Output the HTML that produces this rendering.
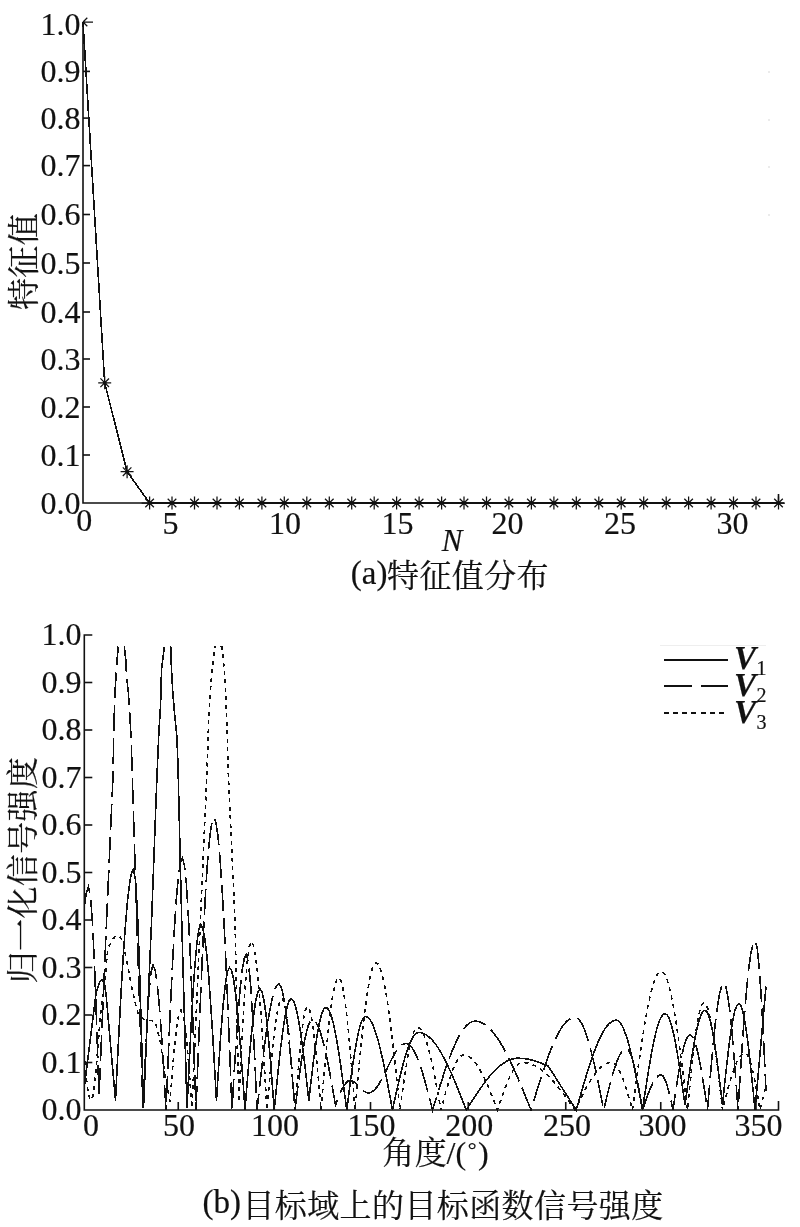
<!DOCTYPE html>
<html lang="zh"><head><meta charset="utf-8"><title>figure</title>
<style>
html,body{margin:0;padding:0;background:#fff;}
body{width:800px;height:1227px;overflow:hidden;position:relative;}
svg{position:absolute;left:0;top:0;display:block;}
text{font-family:"Liberation Serif","Noto Serif CJK SC",serif;fill:#111;stroke:#111;stroke-width:0.2;}
.t{font-size:32px;}
.cj{font-family:"Liberation Serif","Noto Serif CJK SC",serif;font-size:32px;letter-spacing:0.4px;}
.lt{font-size:33px;}
.mk{stroke:#111;stroke-width:1.25;fill:none;}
.yl{letter-spacing:0px;}
.ax{stroke:#111;stroke-width:1.6;fill:none;}
.ln{stroke:#111;stroke-width:1.6;fill:none;stroke-linejoin:miter;shape-rendering:crispEdges;}
</style></head><body>
<svg width="800" height="1227" viewBox="0 0 800 1227">
<path class="ax" d="M83 22V503H784M778.5 503v-9"/>
<text class="t yl" x="80.4" y="513.6" text-anchor="end">0.0</text>
<path class="ax" d="M83 455h7"/>
<text class="t yl" x="80.4" y="465.6" text-anchor="end">0.1</text>
<path class="ax" d="M83 407h7"/>
<text class="t yl" x="80.4" y="417.6" text-anchor="end">0.2</text>
<path class="ax" d="M83 359h7"/>
<text class="t yl" x="80.4" y="369.6" text-anchor="end">0.3</text>
<path class="ax" d="M83 312h7"/>
<text class="t yl" x="80.4" y="322.6" text-anchor="end">0.4</text>
<path class="ax" d="M83 263h7"/>
<text class="t yl" x="80.4" y="273.6" text-anchor="end">0.5</text>
<path class="ax" d="M83 214.5h7"/>
<text class="t yl" x="80.4" y="225.1" text-anchor="end">0.6</text>
<path class="ax" d="M83 165.6h7"/>
<text class="t yl" x="80.4" y="176.2" text-anchor="end">0.7</text>
<path class="ax" d="M83 118.1h7"/>
<text class="t yl" x="80.4" y="128.7" text-anchor="end">0.8</text>
<path class="ax" d="M83 71.4h7"/>
<text class="t yl" x="80.4" y="82.0" text-anchor="end">0.9</text>
<text class="t yl" x="80.4" y="35.0" text-anchor="end">1.0</text>
<text class="t" x="84.3" y="531" text-anchor="middle">0</text>
<text class="t" x="170.5" y="533.5" text-anchor="middle">5</text>
<text class="t" x="285.0" y="533.5" text-anchor="middle">10</text>
<text class="t" x="397.5" y="533.5" text-anchor="middle">15</text>
<text class="t" x="507.4" y="533.5" text-anchor="middle">20</text>
<text class="t" x="620.0" y="533.5" text-anchor="middle">25</text>
<text class="t" x="732.5" y="533.5" text-anchor="middle">30</text>
<rect x="768.5" y="71" width="1" height="2" fill="#d8d8d8"/>
<rect x="768.5" y="119" width="1" height="2" fill="#d8d8d8"/>
<rect x="768.5" y="166" width="1" height="2" fill="#d8d8d8"/>
<rect x="768.5" y="214" width="1" height="2" fill="#d8d8d8"/>
<path class="ln" d="M83.0 22.0 L104.7 382.8 L127.1 471.7 L149.6 503.0 L172.0 503.0 L194.5 503.0 L217.0 503.0 L239.4 503.0 L261.9 503.0 L284.3 503.0 L306.8 503.0 L329.3 503.0 L351.7 503.0 L374.2 503.0 L396.6 503.0 L419.1 503.0 L441.6 503.0 L464.0 503.0 L486.5 503.0 L508.9 503.0 L531.4 503.0 L553.9 503.0 L576.3 503.0 L598.8 503.0 L621.2 503.0 L643.7 503.0 L666.2 503.0 L688.6 503.0 L711.1 503.0 L733.5 503.0 L756.0 503.0 L778.5 503.0"/>
<path class="mk" d="M83.0 22.0h10M83.0 22.0l4.3 4.3M83.0 22.0l4.3 -4.3"/>
<path class="mk" d="M98.2 382.8h13.0M104.7 376.2v13.0M100.4 378.4l8.6 8.6M100.4 387.1l8.6 -8.6"/>
<circle cx="104.7" cy="382.8" r="1.8" fill="#111"/>
<path class="mk" d="M120.6 471.7h13.0M127.1 465.2v13.0M122.8 467.4l8.6 8.6M122.8 476.0l8.6 -8.6"/>
<circle cx="127.1" cy="471.7" r="1.8" fill="#111"/>
<path class="mk" d="M141.6 503.0h16M149.6 496.5v13.0M145.3 498.7l8.6 8.6M145.3 507.3l8.6 -8.6"/>
<circle cx="149.6" cy="503.0" r="1.8" fill="#111"/>
<path class="mk" d="M165.5 503.0h13.0M172.0 496.5v13.0M167.7 498.7l8.6 8.6M167.7 507.3l8.6 -8.6"/>
<circle cx="172.0" cy="503.0" r="1.8" fill="#111"/>
<path class="mk" d="M188.0 503.0h13.0M194.5 496.5v13.0M190.2 498.7l8.6 8.6M190.2 507.3l8.6 -8.6"/>
<circle cx="194.5" cy="503.0" r="1.8" fill="#111"/>
<path class="mk" d="M210.5 503.0h13.0M217.0 496.5v13.0M212.7 498.7l8.6 8.6M212.7 507.3l8.6 -8.6"/>
<circle cx="217.0" cy="503.0" r="1.8" fill="#111"/>
<path class="mk" d="M232.9 503.0h13.0M239.4 496.5v13.0M235.1 498.7l8.6 8.6M235.1 507.3l8.6 -8.6"/>
<circle cx="239.4" cy="503.0" r="1.8" fill="#111"/>
<path class="mk" d="M255.4 503.0h13.0M261.9 496.5v13.0M257.6 498.7l8.6 8.6M257.6 507.3l8.6 -8.6"/>
<circle cx="261.9" cy="503.0" r="1.8" fill="#111"/>
<path class="mk" d="M277.8 503.0h13.0M284.3 496.5v13.0M280.0 498.7l8.6 8.6M280.0 507.3l8.6 -8.6"/>
<circle cx="284.3" cy="503.0" r="1.8" fill="#111"/>
<path class="mk" d="M300.3 503.0h13.0M306.8 496.5v13.0M302.5 498.7l8.6 8.6M302.5 507.3l8.6 -8.6"/>
<circle cx="306.8" cy="503.0" r="1.8" fill="#111"/>
<path class="mk" d="M322.8 503.0h13.0M329.3 496.5v13.0M325.0 498.7l8.6 8.6M325.0 507.3l8.6 -8.6"/>
<circle cx="329.3" cy="503.0" r="1.8" fill="#111"/>
<path class="mk" d="M345.2 503.0h13.0M351.7 496.5v13.0M347.4 498.7l8.6 8.6M347.4 507.3l8.6 -8.6"/>
<circle cx="351.7" cy="503.0" r="1.8" fill="#111"/>
<path class="mk" d="M367.7 503.0h13.0M374.2 496.5v13.0M369.9 498.7l8.6 8.6M369.9 507.3l8.6 -8.6"/>
<circle cx="374.2" cy="503.0" r="1.8" fill="#111"/>
<path class="mk" d="M390.1 503.0h13.0M396.6 496.5v13.0M392.3 498.7l8.6 8.6M392.3 507.3l8.6 -8.6"/>
<circle cx="396.6" cy="503.0" r="1.8" fill="#111"/>
<path class="mk" d="M412.6 503.0h13.0M419.1 496.5v13.0M414.8 498.7l8.6 8.6M414.8 507.3l8.6 -8.6"/>
<circle cx="419.1" cy="503.0" r="1.8" fill="#111"/>
<path class="mk" d="M435.1 503.0h13.0M441.6 496.5v13.0M437.3 498.7l8.6 8.6M437.3 507.3l8.6 -8.6"/>
<circle cx="441.6" cy="503.0" r="1.8" fill="#111"/>
<path class="mk" d="M457.5 503.0h13.0M464.0 496.5v13.0M459.7 498.7l8.6 8.6M459.7 507.3l8.6 -8.6"/>
<circle cx="464.0" cy="503.0" r="1.8" fill="#111"/>
<path class="mk" d="M480.0 503.0h13.0M486.5 496.5v13.0M482.2 498.7l8.6 8.6M482.2 507.3l8.6 -8.6"/>
<circle cx="486.5" cy="503.0" r="1.8" fill="#111"/>
<path class="mk" d="M502.4 503.0h13.0M508.9 496.5v13.0M504.6 498.7l8.6 8.6M504.6 507.3l8.6 -8.6"/>
<circle cx="508.9" cy="503.0" r="1.8" fill="#111"/>
<path class="mk" d="M524.9 503.0h13.0M531.4 496.5v13.0M527.1 498.7l8.6 8.6M527.1 507.3l8.6 -8.6"/>
<circle cx="531.4" cy="503.0" r="1.8" fill="#111"/>
<path class="mk" d="M547.4 503.0h13.0M553.9 496.5v13.0M549.6 498.7l8.6 8.6M549.6 507.3l8.6 -8.6"/>
<circle cx="553.9" cy="503.0" r="1.8" fill="#111"/>
<path class="mk" d="M569.8 503.0h13.0M576.3 496.5v13.0M572.0 498.7l8.6 8.6M572.0 507.3l8.6 -8.6"/>
<circle cx="576.3" cy="503.0" r="1.8" fill="#111"/>
<path class="mk" d="M592.3 503.0h13.0M598.8 496.5v13.0M594.5 498.7l8.6 8.6M594.5 507.3l8.6 -8.6"/>
<circle cx="598.8" cy="503.0" r="1.8" fill="#111"/>
<path class="mk" d="M614.7 503.0h13.0M621.2 496.5v13.0M616.9 498.7l8.6 8.6M616.9 507.3l8.6 -8.6"/>
<circle cx="621.2" cy="503.0" r="1.8" fill="#111"/>
<path class="mk" d="M637.2 503.0h13.0M643.7 496.5v13.0M639.4 498.7l8.6 8.6M639.4 507.3l8.6 -8.6"/>
<circle cx="643.7" cy="503.0" r="1.8" fill="#111"/>
<path class="mk" d="M659.7 503.0h13.0M666.2 496.5v13.0M661.9 498.7l8.6 8.6M661.9 507.3l8.6 -8.6"/>
<circle cx="666.2" cy="503.0" r="1.8" fill="#111"/>
<path class="mk" d="M682.1 503.0h13.0M688.6 496.5v13.0M684.3 498.7l8.6 8.6M684.3 507.3l8.6 -8.6"/>
<circle cx="688.6" cy="503.0" r="1.8" fill="#111"/>
<path class="mk" d="M704.6 503.0h13.0M711.1 496.5v13.0M706.8 498.7l8.6 8.6M706.8 507.3l8.6 -8.6"/>
<circle cx="711.1" cy="503.0" r="1.8" fill="#111"/>
<path class="mk" d="M727.0 503.0h13.0M733.5 496.5v13.0M729.2 498.7l8.6 8.6M729.2 507.3l8.6 -8.6"/>
<circle cx="733.5" cy="503.0" r="1.8" fill="#111"/>
<path class="mk" d="M749.5 503.0h13.0M756.0 496.5v13.0M751.7 498.7l8.6 8.6M751.7 507.3l8.6 -8.6"/>
<circle cx="756.0" cy="503.0" r="1.8" fill="#111"/>
<path class="mk" d="M772.0 503.0h13.0M778.5 496.5v13.0M774.2 498.7l8.6 8.6M774.2 507.3l8.6 -8.6"/>
<circle cx="778.5" cy="503.0" r="1.8" fill="#111"/>
<text class="t" style="font-size:31px" x="452" y="550.5" text-anchor="middle" font-style="italic">N</text>
<text class="lt" x="350.8" y="584.2">(a)</text><text class="cj" x="387" y="586.5">特征值分布</text>
<text class="cj" transform="translate(34.5,261.5) rotate(-90)" text-anchor="middle">特征值</text>
<path class="ax" d="M92.3 635H84.3V1110H778.5v-9"/>
<path class="ax" d="M84.3 1062.5h8"/>
<path class="ax" d="M84.3 1015.0h8"/>
<path class="ax" d="M84.3 967.5h8"/>
<path class="ax" d="M84.3 920.0h8"/>
<path class="ax" d="M84.3 872.5h8"/>
<path class="ax" d="M84.3 825.0h8"/>
<path class="ax" d="M84.3 777.5h8"/>
<path class="ax" d="M84.3 730.0h8"/>
<path class="ax" d="M84.3 682.5h8"/>
<text class="t yl" x="81.4" y="1120.4" text-anchor="end">0.0</text>
<text class="t yl" x="81.4" y="1072.9" text-anchor="end">0.1</text>
<text class="t yl" x="81.4" y="1025.4" text-anchor="end">0.2</text>
<text class="t yl" x="81.4" y="977.9" text-anchor="end">0.3</text>
<text class="t yl" x="81.4" y="930.4" text-anchor="end">0.4</text>
<text class="t yl" x="81.4" y="882.9" text-anchor="end">0.5</text>
<text class="t yl" x="81.4" y="835.4" text-anchor="end">0.6</text>
<text class="t yl" x="81.4" y="787.9" text-anchor="end">0.7</text>
<text class="t yl" x="81.4" y="740.4" text-anchor="end">0.8</text>
<text class="t yl" x="81.4" y="692.9" text-anchor="end">0.9</text>
<text class="t yl" x="81.4" y="645.4" text-anchor="end">1.0</text>
<path class="ax" d="M178.25 1110v-8"/>
<text class="t" x="178.9" y="1136" text-anchor="middle">50</text>
<path class="ax" d="M274.25 1110v-8"/>
<text class="t" x="275.0" y="1136" text-anchor="middle">100</text>
<path class="ax" d="M370.5 1110v-8"/>
<text class="t" x="371.5" y="1136" text-anchor="middle">150</text>
<path class="ax" d="M468.25 1110v-8"/>
<text class="t" x="469.3" y="1136" text-anchor="middle">200</text>
<path class="ax" d="M565.75 1110v-8"/>
<text class="t" x="567.0" y="1136" text-anchor="middle">250</text>
<path class="ax" d="M660.75 1110v-8"/>
<text class="t" x="662.5" y="1136" text-anchor="middle">300</text>
<path class="ax" d="M756 1110v-8"/>
<text class="t" x="758.6" y="1136" text-anchor="middle">350</text>
<text class="t" x="91" y="1136" text-anchor="middle">0</text>
<text class="cj" x="382.3" y="1163.5">角度</text><text class="lt" style="font-size:32px" x="446.6" y="1163.8">/(<tspan style="font-size:22px" dx="1.5" dy="-6.8">°</tspan><tspan dx="1.5" dy="6.8">)</tspan></text>
<text class="lt" x="202.4" y="1213.2">(b)</text><text class="cj" x="242.4" y="1216.8">目标域上的目标函数信号强度</text>
<text class="cj" transform="translate(34,870) rotate(-90)" text-anchor="middle">归一化信号强度</text>
<path class="ln" d="M84.4 1086.2 L86.3 1070.8 L88.3 1055.4 L90.2 1039.9 L92.1 1024.5 L94.1 1009.1 L96.0 993.6 L98.0 986.5 L100.0 981.3 L102.0 979.4 L104.0 983.5 L106.0 993.6 L107.9 1015.0 L109.8 1036.4 L111.7 1057.8 L113.6 1079.1 L115.5 1100.5 L117.5 1060.3 L119.5 1021.4 L121.5 984.8 L123.5 951.8 L125.6 923.3 L127.6 900.2 L129.6 883.1 L131.6 872.7 L133.6 869.2 L135.6 881.0 L137.6 915.2 L139.5 968.4 L141.5 1035.6 L143.5 1108.0 L151.6 920.0 L157.0 775.0 L159.0 730.0 L160.6 704.0 L161.5 670.0 L162.8 659.0 L164.4 646.5M170.7 646.5 L171.1 661.5 L172.7 691.0 L174.5 713.0 L176.8 736.0 L177.9 762.0 L181.7 920.0 L187.0 1108.0 L189.0 1068.8 L190.9 1029.6 L192.9 994.5 L194.9 965.2 L196.9 943.1 L198.8 929.4 L200.8 924.8 L202.8 928.1 L204.7 938.1 L206.7 954.4 L208.7 976.2 L210.6 1002.9 L212.6 1033.2 L214.5 1066.2 L216.5 1100.5 L218.7 1066.1 L220.8 1034.0 L223.0 1006.5 L225.2 985.3 L227.3 972.0 L229.5 967.5 L231.4 970.2 L233.4 978.3 L235.3 991.5 L237.2 1009.2 L239.2 1030.8 L241.1 1055.5 L243.1 1082.2 L245.0 1110.0 L247.1 1083.0 L249.3 1057.4 L251.4 1034.5 L253.6 1015.3 L255.7 1000.9 L257.9 991.9 L260.0 988.9 L262.0 991.9 L264.1 1000.9 L266.1 1015.3 L268.1 1034.5 L270.2 1057.4 L272.2 1083.0 L274.2 1110.0 L276.4 1088.3 L278.5 1067.5 L280.6 1048.2 L282.8 1031.4 L284.9 1017.6 L287.0 1007.3 L289.1 1001.0 L291.2 998.9 L293.2 1000.4 L295.1 1005.0 L297.1 1012.5 L299.0 1022.6 L301.0 1035.2 L302.9 1049.7 L304.9 1065.7 L306.8 1082.8 L308.8 1100.5 L310.9 1082.3 L313.0 1064.9 L315.1 1048.8 L317.2 1034.7 L319.4 1023.1 L321.5 1014.5 L323.6 1009.2 L325.8 1007.4 L327.7 1008.4 L329.6 1011.6 L331.5 1016.7 L333.4 1023.7 L335.3 1032.5 L337.2 1042.8 L339.1 1054.5 L341.0 1067.4 L342.9 1081.1 L344.8 1095.4 L346.8 1110.0 L348.8 1093.8 L350.9 1078.0 L353.0 1063.2 L355.1 1049.9 L357.2 1038.3 L359.2 1029.0 L361.3 1022.1 L363.4 1017.8 L365.5 1016.4 L367.4 1017.0 L369.4 1018.8 L371.3 1021.7 L373.2 1025.7 L375.1 1030.8 L377.1 1036.8 L379.0 1043.8 L380.9 1051.7 L382.9 1060.2 L384.8 1069.4 L386.7 1079.1 L388.6 1089.2 L390.6 1099.5 L392.5 1110.0 L394.5 1100.7 L396.5 1091.5 L398.6 1082.5 L400.6 1074.0 L402.6 1066.0 L404.6 1058.7 L406.6 1052.0 L408.7 1046.3 L410.7 1041.4 L412.7 1037.6 L414.7 1034.8 L416.7 1033.1 L418.8 1032.6 L420.6 1032.7 L422.6 1033.2 L424.4 1033.9 L426.4 1035.0 L428.2 1036.4 L430.1 1038.0 L432.1 1039.9 L433.9 1042.2 L435.9 1044.6 L437.8 1047.4 L439.6 1050.3 L441.6 1053.6 L443.4 1057.0 L445.4 1060.6 L447.2 1064.5 L449.1 1068.5 L451.1 1072.7 L452.9 1077.0 L454.9 1081.5 L456.8 1086.1 L458.6 1090.7 L460.6 1095.5 L462.4 1100.3 L464.4 1105.1 L466.2 1110.0 L468.2 1107.0 L470.1 1104.0 L472.0 1101.0 L473.9 1098.1 L475.8 1095.2 L477.8 1092.3 L479.7 1089.5 L481.6 1086.8 L483.5 1084.1 L485.4 1081.5 L487.3 1079.1 L489.2 1076.7 L491.2 1074.5 L493.1 1072.3 L495.0 1070.3 L496.9 1068.5 L498.8 1066.7 L500.8 1065.2 L502.7 1063.7 L504.6 1062.5 L506.5 1061.3 L508.4 1060.4 L510.3 1059.6 L512.2 1059.0 L514.2 1058.6 L516.1 1058.3 L518.0 1058.2 L520.0 1058.3 L522.0 1058.4 L524.0 1058.6 L526.0 1058.9 L528.0 1059.2 L530.0 1059.7 L532.0 1060.2 L534.0 1060.7 L536.0 1061.4 L538.0 1062.0 L540.0 1062.7 L542.0 1063.5 L544.0 1064.2 L546.0 1065.0 L548.0 1065.8 L550.0 1069.0 L552.0 1072.1 L554.1 1075.3 L556.1 1078.4 L558.1 1081.6 L560.1 1084.8 L562.1 1087.9 L564.1 1091.1 L566.2 1094.2 L568.2 1097.4 L570.2 1100.5 L572.2 1103.7 L574.2 1106.8 L576.2 1110.0 L578.2 1103.3 L580.1 1096.6 L582.0 1090.0 L583.9 1083.5 L585.8 1077.2 L587.7 1071.0 L589.6 1065.1 L591.5 1059.4 L593.4 1054.0 L595.3 1048.9 L597.2 1044.2 L599.1 1039.8 L601.0 1035.8 L602.9 1032.3 L604.8 1029.1 L606.7 1026.4 L608.6 1024.2 L610.5 1022.5 L612.4 1021.2 L614.3 1020.5 L616.2 1020.2 L618.3 1020.9 L620.3 1022.8 L622.3 1026.1 L624.3 1030.5 L626.3 1036.1 L628.4 1042.8 L630.4 1050.5 L632.4 1059.0 L634.4 1068.3 L636.4 1078.2 L638.5 1088.5 L640.5 1099.2 L642.5 1110.0 L644.5 1096.3 L646.6 1082.8 L648.6 1069.9 L650.7 1057.9 L652.7 1046.9 L654.8 1037.1 L656.8 1028.9 L658.9 1022.3 L660.9 1017.5 L663.0 1014.6 L665.0 1013.6 L667.0 1014.7 L669.0 1018.1 L671.0 1023.6 L673.0 1031.1 L675.0 1040.4 L677.0 1051.4 L679.0 1063.6 L681.0 1076.9 L683.0 1090.9 L685.0 1105.2 L687.0 1090.4 L689.0 1075.9 L691.0 1062.1 L693.0 1049.4 L695.0 1038.1 L697.0 1028.4 L699.0 1020.6 L701.0 1014.9 L703.0 1011.4 L705.0 1010.2 L706.9 1011.7 L708.9 1016.0 L710.8 1023.0 L712.8 1032.5 L714.7 1044.2 L716.7 1057.8 L718.6 1072.8 L720.6 1088.8 L722.5 1105.2 L724.5 1085.4 L726.6 1066.4 L728.6 1048.8 L730.6 1033.4 L732.7 1020.7 L734.7 1011.3 L736.7 1005.6 L738.8 1003.6 L740.8 1005.6 L742.8 1011.7 L744.8 1021.5 L746.9 1034.8 L748.9 1050.9 L750.9 1069.3 L753.0 1089.2 L755.0 1110.0 L757.2 1085.3 L759.4 1060.6 L761.6 1035.9 L763.8 1011.2 L766.0 986.5"/>
<path class="ln" stroke-dasharray="26 7" d="M84.4 905.8 L86.5 892.3 L88.5 886.8 L90.6 897.0 L92.7 926.7 L94.8 972.9 L96.9 1031.2 L99.0 1096.0 L106.6 920.0 L113.1 774.0 L113.5 742.0 L114.9 693.0 L116.0 677.0 L117.1 659.0 L118.3 646.5M124.3 646.5 L125.7 659.0 L126.6 677.0 L128.4 693.0 L129.5 709.0 L131.3 742.0 L132.2 774.0 L136.3 905.0 L143.0 1108.0 L145.0 1065.2 L147.0 1024.8 L149.0 992.8 L151.0 972.2 L153.0 965.1 L155.2 970.1 L157.3 984.5 L159.5 1007.6 L161.7 1037.6 L163.8 1072.5 L166.0 1110.0 L168.1 1060.9 L170.1 1013.7 L172.2 970.1 L174.2 932.0 L176.2 900.7 L178.3 877.4 L180.3 863.1 L182.4 858.2 L184.3 864.6 L186.3 883.2 L188.2 913.2 L190.2 953.0 L192.1 1000.8 L194.1 1054.0 L196.0 1110.0 L198.0 1059.3 L200.0 1010.1 L202.0 963.9 L204.0 922.2 L205.9 886.2 L207.9 857.0 L209.9 835.5 L211.9 822.3 L213.9 817.9 L215.9 822.3 L217.9 835.5 L219.9 857.0 L221.9 886.2 L224.0 922.2 L226.0 963.9 L228.0 1010.1 L230.0 1059.3 L232.0 1110.0 L234.0 1075.4 L236.1 1042.6 L238.1 1013.2 L240.2 988.6 L242.2 970.1 L244.3 958.6 L246.3 954.7 L248.4 962.3 L250.6 984.3 L252.7 1018.7 L254.9 1062.0 L257.0 1110.0 L259.0 1092.1 L261.0 1074.5 L263.0 1057.7 L265.0 1041.9 L267.0 1027.6 L269.0 1014.9 L271.0 1004.1 L273.0 995.5 L275.0 989.2 L277.0 985.4 L279.0 984.1 L281.0 986.5 L283.0 993.7 L285.0 1005.3 L287.0 1021.0 L289.0 1040.1 L291.0 1061.8 L293.0 1085.4 L295.0 1110.0 L296.9 1094.3 L298.8 1079.1 L300.8 1064.9 L302.7 1052.0 L304.6 1040.9 L306.5 1031.8 L308.4 1025.2 L310.3 1021.1 L312.2 1019.8 L314.2 1020.5 L316.1 1022.7 L318.1 1026.3 L320.0 1031.2 L321.9 1037.4 L323.9 1044.8 L325.8 1053.2 L327.8 1062.5 L329.7 1072.5 L331.6 1083.1 L333.6 1094.1 L335.5 1105.2 L337.6 1099.8 L339.6 1094.5 L341.7 1089.8 L343.8 1085.9 L345.9 1083.0 L347.9 1081.2 L350.0 1080.5 L352.1 1080.9 L354.1 1082.0 L356.2 1083.6 L358.2 1085.7 L360.3 1087.8 L362.3 1089.8 L364.4 1091.5 L366.4 1092.5 L368.5 1092.9 L370.5 1092.6 L372.4 1091.6 L374.4 1089.9 L376.4 1087.7 L378.4 1084.9 L380.3 1081.7 L382.3 1078.1 L384.3 1074.3 L386.3 1070.2 L388.2 1066.2 L390.2 1062.1 L392.2 1058.3 L394.2 1054.7 L396.1 1051.5 L398.1 1048.7 L400.1 1046.5 L402.1 1044.8 L404.0 1043.8 L406.0 1043.5 L408.0 1044.0 L410.1 1045.4 L412.1 1047.8 L414.2 1051.1 L416.2 1055.3 L418.2 1060.2 L420.3 1065.9 L422.3 1072.2 L424.3 1079.1 L426.4 1086.4 L428.4 1094.1 L430.5 1102.0 L432.5 1110.0 L434.4 1103.7 L436.4 1097.4 L438.3 1091.1 L440.2 1085.0 L442.2 1079.0 L444.1 1073.1 L446.0 1067.4 L448.0 1062.0 L449.9 1056.8 L451.8 1051.8 L453.8 1047.2 L455.7 1042.9 L457.6 1038.9 L459.5 1035.3 L461.5 1032.0 L463.4 1029.2 L465.3 1026.8 L467.3 1024.8 L469.2 1023.2 L471.1 1022.1 L473.1 1021.4 L475.0 1021.2 L476.9 1021.3 L478.9 1021.7 L480.8 1022.3 L482.7 1023.3 L484.7 1024.4 L486.6 1025.8 L488.5 1027.5 L490.4 1029.4 L492.4 1031.5 L494.3 1033.9 L496.2 1036.5 L498.2 1039.3 L500.1 1042.3 L502.0 1045.5 L504.0 1048.9 L505.9 1052.5 L507.8 1056.2 L509.8 1060.2 L511.7 1064.2 L513.6 1068.4 L515.6 1072.7 L517.5 1077.1 L519.4 1081.6 L521.3 1086.2 L523.3 1090.9 L525.2 1095.6 L527.1 1100.4 L529.1 1105.2 L531.0 1110.0 L532.9 1103.7 L534.8 1097.4 L536.7 1091.2 L538.7 1085.0 L540.6 1079.0 L542.5 1073.1 L544.4 1067.4 L546.3 1061.9 L548.2 1056.6 L550.1 1051.5 L552.0 1046.8 L554.0 1042.3 L555.9 1038.1 L557.8 1034.3 L559.7 1030.9 L561.6 1027.8 L563.5 1025.0 L565.4 1022.7 L567.3 1020.8 L569.3 1019.3 L571.2 1018.2 L573.1 1017.6 L575.0 1017.4 L576.9 1017.9 L578.8 1019.4 L580.8 1021.9 L582.7 1025.4 L584.6 1029.8 L586.5 1035.1 L588.4 1041.2 L590.3 1048.0 L592.2 1055.6 L594.2 1063.7 L596.1 1072.3 L598.0 1081.4 L599.9 1090.7 L601.8 1100.3 L603.8 1110.0 L605.8 1101.3 L607.8 1092.7 L609.9 1084.5 L611.9 1076.9 L614.0 1069.9 L616.0 1063.7 L618.1 1058.5 L620.1 1054.3 L622.2 1051.2 L624.2 1049.3 L626.2 1048.7 L628.3 1049.9 L630.3 1053.4 L632.3 1059.1 L634.4 1066.7 L636.4 1076.0 L638.4 1086.6 L640.5 1098.0 L642.5 1110.0 L644.6 1103.9 L646.6 1098.0 L648.7 1092.4 L650.7 1087.4 L652.8 1083.1 L654.8 1079.6 L656.9 1077.0 L658.9 1075.4 L661.0 1074.8 L663.0 1076.0 L665.0 1079.6 L667.0 1085.1 L669.0 1092.4 L671.0 1100.9 L673.0 1110.0 L675.1 1095.4 L677.2 1081.3 L679.4 1068.3 L681.5 1056.9 L683.6 1047.6 L685.8 1040.7 L687.9 1036.4 L690.0 1035.0 L691.9 1036.1 L693.9 1039.5 L695.8 1045.0 L697.8 1052.5 L699.7 1061.8 L701.7 1072.5 L703.6 1084.3 L705.6 1097.0 L707.5 1110.0 L709.5 1085.4 L711.6 1061.6 L713.6 1039.8 L715.6 1020.7 L717.7 1004.9 L719.7 993.3 L721.7 986.1 L723.8 983.6 L725.8 986.8 L727.8 996.2 L729.9 1011.2 L731.9 1031.2 L733.9 1055.2 L736.0 1081.9 L738.0 1110.0 L740.1 1077.0 L742.2 1045.3 L744.4 1016.1 L746.5 990.4 L748.6 969.4 L750.8 953.8 L752.9 944.1 L755.0 940.9 L757.2 948.2 L759.4 969.6 L761.6 1002.8 L763.8 1044.6 L766.0 1091.0"/>
<path class="ln" stroke-dasharray="4 4.5" d="M84.4 1053.0 L87.2 1086.6 L90.0 1100.5 L91.5 1099.1 L93.0 1095.8 L94.5 1082.9 L96.0 1070.1 L97.0 1058.0 L98.0 1045.9 L99.0 1032.8 L100.0 1019.8 L101.0 1010.2 L102.0 1000.8 L103.5 992.9 L105.0 985.1 L105.5 975.6 L106.0 966.1 L107.0 957.0 L108.0 948.0 L110.5 943.5 L113.0 939.0 L115.5 936.3 L118.0 935.2 L120.5 937.4 L123.0 942.8 L125.0 952.3 L127.0 961.8 L129.0 973.0 L131.0 984.1 L133.5 995.0 L136.0 1006.0 L137.5 1011.0 L139.0 1016.0 L141.0 1017.2 L143.0 1018.5 L145.0 1019.8 L147.0 1020.0 L149.0 1020.3 L151.0 1020.6 L153.0 1020.9 L155.0 1021.2 L157.5 1030.7 L160.0 1040.2 L162.5 1057.5 L165.0 1074.8 L167.5 1088.2 L170.0 1101.5 L172.2 1073.3 L174.4 1047.8 L176.6 1027.7 L178.8 1014.7 L181.0 1010.2 L183.2 1015.1 L185.4 1029.3 L187.6 1051.4 L189.8 1079.2 L192.0 1108.0 L200.4 920.0 L207.0 772.0 L207.8 747.0 L208.7 720.0 L210.0 697.5 L211.6 675.0 L213.9 655.0 L215.0 647.0 L216.5 646.5M220.5 646.5 L221.8 647.0 L223.3 659.0 L224.7 675.0 L225.8 697.5 L226.7 720.0 L227.6 747.0 L228.2 772.0 L235.0 920.0 L238.8 1102.0 L240.8 1061.1 L242.9 1022.1 L245.0 988.7 L247.1 963.0 L249.2 946.9 L251.2 941.4 L253.2 944.6 L255.2 954.2 L257.2 969.8 L259.1 990.8 L261.1 1016.3 L263.1 1045.5 L265.0 1077.1 L267.0 1110.0 L269.1 1085.2 L271.3 1061.6 L273.4 1040.4 L275.6 1022.7 L277.7 1009.4 L279.9 1001.2 L282.0 998.4 L284.2 1002.2 L286.3 1013.3 L288.5 1031.1 L290.7 1054.2 L292.8 1081.1 L295.0 1110.0 L297.1 1083.2 L299.2 1058.2 L301.2 1036.8 L303.3 1020.3 L305.4 1010.0 L307.5 1006.5 L309.4 1009.0 L311.4 1016.7 L313.3 1029.0 L315.2 1045.4 L317.1 1065.1 L319.1 1087.0 L321.0 1110.0 L323.0 1087.0 L324.9 1064.7 L326.9 1043.7 L328.9 1024.8 L330.9 1008.5 L332.8 995.2 L334.8 985.5 L336.8 979.5 L338.8 977.5 L340.8 980.0 L342.8 987.6 L344.8 999.8 L346.9 1016.3 L348.9 1036.4 L350.9 1059.3 L353.0 1084.1 L355.0 1110.0 L356.9 1089.0 L358.8 1068.5 L360.7 1048.8 L362.6 1030.4 L364.5 1013.6 L366.5 998.7 L368.4 986.1 L370.3 976.1 L372.2 968.7 L374.1 964.2 L376.0 962.8 L378.0 964.0 L380.0 967.8 L382.0 974.0 L384.0 982.5 L386.0 993.2 L388.0 1005.9 L390.0 1020.4 L392.0 1036.4 L394.0 1053.6 L396.0 1071.9 L398.0 1090.8 L400.0 1110.0 L401.9 1095.6 L403.9 1081.7 L405.8 1068.7 L407.8 1056.9 L409.7 1046.7 L411.7 1038.4 L413.6 1032.3 L415.6 1028.6 L417.5 1027.3 L419.5 1028.1 L421.4 1030.2 L423.4 1033.6 L425.3 1038.4 L427.3 1044.4 L429.2 1051.6 L431.2 1059.7 L433.2 1068.7 L435.1 1078.4 L437.1 1088.6 L439.0 1099.2 L441.0 1110.0 L443.1 1102.2 L445.1 1094.5 L447.2 1087.1 L449.3 1080.2 L451.3 1073.9 L453.4 1068.4 L455.5 1063.6 L457.5 1059.9 L459.6 1057.1 L461.7 1055.5 L463.8 1054.9 L465.7 1055.1 L467.7 1055.8 L469.7 1057.0 L471.7 1058.6 L473.7 1060.7 L475.7 1063.2 L477.6 1066.0 L479.6 1069.3 L481.6 1072.9 L483.6 1076.8 L485.6 1081.0 L487.6 1085.4 L489.6 1090.1 L491.5 1094.9 L493.5 1099.9 L495.5 1104.9 L497.5 1110.0 L499.4 1104.3 L501.3 1098.6 L503.3 1093.2 L505.2 1087.9 L507.1 1083.0 L509.0 1078.5 L511.0 1074.4 L512.9 1070.9 L514.8 1067.9 L516.7 1065.6 L518.7 1063.9 L520.6 1062.8 L522.5 1062.5 L524.4 1062.6 L526.4 1062.8 L528.3 1063.2 L530.3 1063.8 L532.2 1064.5 L534.2 1065.4 L536.1 1066.4 L538.1 1067.6 L540.0 1068.9 L541.9 1070.3 L543.9 1071.9 L545.8 1073.6 L547.8 1075.4 L549.7 1077.4 L551.7 1079.5 L553.6 1081.6 L555.6 1083.9 L557.5 1086.2 L559.4 1088.7 L561.4 1091.2 L563.3 1093.8 L565.3 1096.4 L567.2 1099.0 L569.2 1101.8 L571.1 1104.5 L573.1 1107.2 L575.0 1110.0 L576.9 1106.1 L578.8 1102.2 L580.7 1098.3 L582.6 1094.6 L584.5 1090.9 L586.4 1087.4 L588.4 1084.0 L590.3 1080.8 L592.2 1077.8 L594.1 1075.1 L596.0 1072.5 L597.9 1070.2 L599.8 1068.2 L601.7 1066.5 L603.6 1065.1 L605.5 1064.0 L607.4 1063.1 L609.3 1062.7 L611.2 1062.5 L613.2 1063.0 L615.1 1064.4 L617.0 1066.8 L619.0 1070.0 L620.9 1074.1 L622.8 1078.9 L624.8 1084.3 L626.7 1090.3 L628.6 1096.6 L630.6 1103.2 L632.5 1110.0 L634.4 1095.5 L636.3 1081.2 L638.2 1067.1 L640.2 1053.6 L642.1 1040.7 L644.0 1028.5 L645.9 1017.2 L647.8 1006.9 L649.8 997.8 L651.7 989.9 L653.6 983.3 L655.5 978.1 L657.4 974.3 L659.3 972.1 L661.2 971.3 L663.3 972.3 L665.3 975.3 L667.3 980.3 L669.3 987.2 L671.3 995.9 L673.4 1006.2 L675.4 1018.0 L677.4 1031.2 L679.4 1045.5 L681.4 1060.8 L683.5 1076.8 L685.5 1093.3 L687.5 1110.0 L689.5 1089.1 L691.6 1068.9 L693.6 1050.4 L695.6 1034.1 L697.7 1020.7 L699.7 1010.8 L701.7 1004.7 L703.8 1002.6 L705.8 1004.3 L707.9 1009.1 L710.0 1017.0 L712.1 1027.8 L714.2 1041.0 L716.2 1056.3 L718.3 1073.3 L720.4 1091.4 L722.5 1110.0 L724.5 1101.9 L726.6 1093.9 L728.6 1086.3 L730.7 1079.2 L732.7 1072.7 L734.8 1066.9 L736.8 1062.0 L738.9 1058.2 L740.9 1055.3 L743.0 1053.6 L745.0 1053.0 L747.1 1054.4 L749.3 1058.6 L751.4 1065.4 L753.6 1074.5 L755.7 1085.3 L757.9 1097.3 L760.0 1110.0 L762.0 1102.1 L764.0 1094.2 L766.0 1086.2"/>
<path d="M660 645.5H766" stroke="#eee" stroke-width="1"/>
<path class="ln" d="M664 660H728"/>
<path class="ln" stroke-dasharray="28 9" d="M664 686H728"/>
<path class="ln" stroke-dasharray="5 4.3" d="M663.5 713H726"/>
<text x="734" y="669" font-size="33" font-style="italic" font-weight="bold" stroke="none">V</text>
<text x="756.5" y="674.5" font-size="20">1</text>
<text x="734" y="696" font-size="33" font-style="italic" font-weight="bold" stroke="none">V</text>
<text x="756.5" y="701.5" font-size="20">2</text>
<text x="734" y="723" font-size="33" font-style="italic" font-weight="bold" stroke="none">V</text>
<text x="756.5" y="728.5" font-size="20">3</text>
</svg></body></html>
